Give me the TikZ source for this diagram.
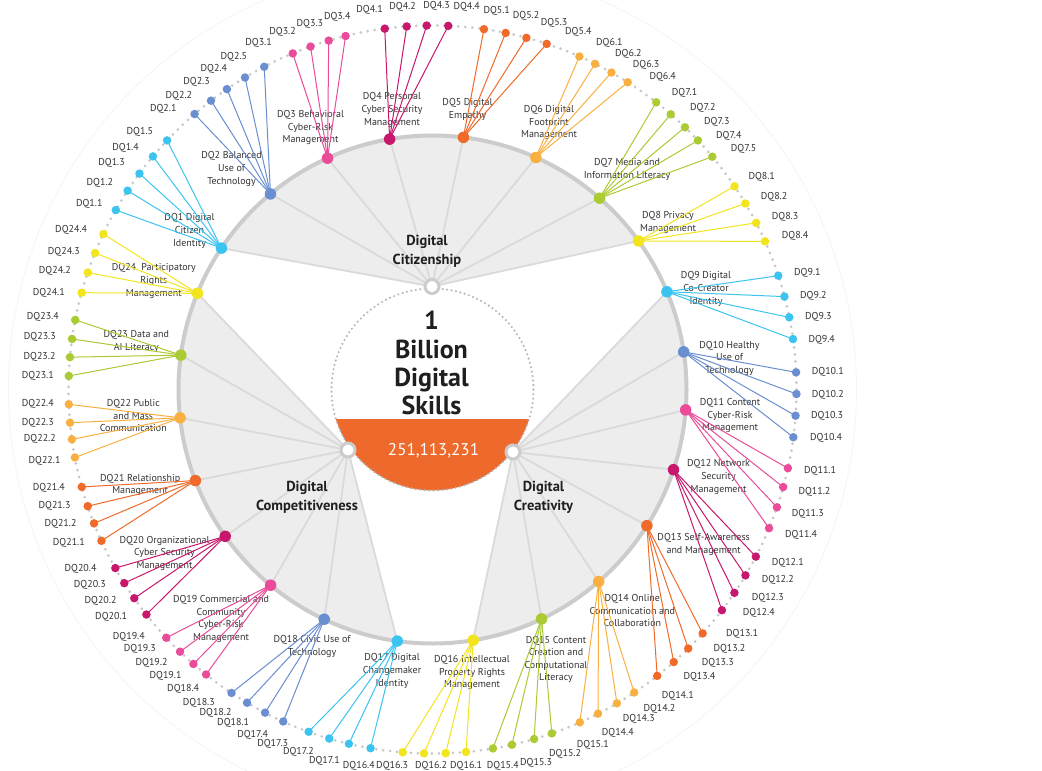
\documentclass[tikz,border=0pt]{standalone}
\usepackage{fontspec}
\setmainfont{PT Sans}
\usetikzlibrary{calc}
\pgfdeclarelayer{bg}
\pgfdeclarelayer{txt}
\pgfdeclarelayer{mid}
\pgfsetlayers{bg,txt,mid,main}
\definecolor{cA}{RGB}{60,196,240}
\definecolor{cB}{RGB}{106,143,208}
\definecolor{cC}{RGB}{234,76,154}
\definecolor{cD}{RGB}{200,24,110}
\definecolor{cE}{RGB}{240,106,42}
\definecolor{cF}{RGB}{249,176,66}
\definecolor{cG}{RGB}{170,203,51}
\definecolor{cH}{RGB}{242,229,30}
\definecolor{ringgray}{RGB}{204,204,204}
\definecolor{sectorgray}{RGB}{237,237,237}
\definecolor{spokegray}{RGB}{218,218,218}
\definecolor{dotgray}{RGB}{200,200,200}
\definecolor{faintgray}{RGB}{245,245,245}
\definecolor{txtdark}{RGB}{51,51,51}
\definecolor{dqorange}{RGB}{238,106,44}
\tikzset{
  subdot/.style={circle, inner sep=0pt, minimum size=8.5pt},
  hubdot/.style={circle, inner sep=0pt, minimum size=11.5pt},
  sublab/.style={font=\fontsize{10}{12}\selectfont, text=txtdark, inner sep=0pt},
  glab/.style={font=\fontsize{10}{12.6}\selectfont, text=txtdark, align=center, inner sep=0pt},
  conn/.style={line width=1pt},
  ring/.style={circle, fill=white, draw=ringgray, line width=3pt, minimum size=14pt, inner sep=0pt},
  spoke/.style={draw=spokegray, line width=1.8pt},
  pillar/.style={font=\bfseries\fontsize{14.5}{18.5}\selectfont, text=black!88, align=center, inner sep=0pt},
}
\newcommand\dqgrp[5]{%
  \node[hubdot, fill=#2] (h#1) at ($(C)!254pt!#3$) {};
  \begin{pgfonlayer}{txt}\node[glab] (t#1) at #4 {#5};\end{pgfonlayer}
}
\newcommand\dqsub[6]{%
  \node[subdot, fill=#3] (d#1-#2) at ($(C)!364pt!#4$) {};
  \node[sublab, anchor=#6] (l#1-#2) at #5 {DQ#1.#2};
  \begin{pgfonlayer}{mid}\draw[conn, draw=#3] (h#1.center) -- (d#1-#2.center);\end{pgfonlayer}
}
\begin{document}
\begin{tikzpicture}[x=1pt,y=-1pt]
\useasboundingbox (0,0) rectangle (1042,771);
\coordinate (C) at (432.5,389.5);
\node[ring] (hubA) at (432,286.5) {};
\node[ring] (hubC) at (348,450) {};
\node[ring] (hubB) at (513,452) {};

\dqgrp{1}{cA}{(220.7,247.6)}{(189.5,231)}{DQ1 Digital\\Citizen\\Identity}
\dqgrp{2}{cB}{(270.7,194.2)}{(231.5,169)}{DQ2 Balanced\\Use of\\Technology}
\dqgrp{3}{cC}{(327.5,158.1)}{(310.5,127.7)}{DQ3 Behavioral\\Cyber-Risk\\Management}
\dqgrp{4}{cD}{(389.7,139.5)}{(392,110)}{DQ4 Personal\\Cyber Security\\Management}
\dqgrp{5}{cE}{(463.4,137.4)}{(467.5,109.7)}{DQ5 Digital\\Empathy}
\dqgrp{6}{cF}{(535,159.4)}{(549,122.7)}{DQ6 Digital\\Footprint\\Management}
\dqgrp{7}{cG}{(598.6,199.3)}{(627,169.7)}{DQ7 Media and\\Information Literacy}
\dqgrp{8}{cH}{(637.8,241.5)}{(668,222.7)}{DQ8 Privacy\\Management}
\dqgrp{9}{cA}{(665.8,292.2)}{(706,289)}{DQ9 Digital\\Co-Creator\\Identity}
\dqgrp{10}{cB}{(682,352.1)}{(729.5,358.3)}{DQ10 Healthy\\Use of\\Technology}
\dqgrp{11}{cC}{(685.5,409.9)}{(730,415.7)}{DQ11 Content\\Cyber-Risk\\Management}
\dqgrp{12}{cD}{(673.6,469.7)}{(718.5,477)}{DQ12 Network\\Security\\Management}
\dqgrp{13}{cE}{(647.6,526.1)}{(703.7,544.5)}{DQ13 Self-Awareness\\and Management}
\dqgrp{14}{cF}{(599.3,582.2)}{(632.3,610.5)}{DQ14 Online\\Communication and\\Collaboration}
\dqgrp{15}{cG}{(541.8,619.4)}{(556,659.5)}{DQ15 Content\\Creation and\\Computational\\Literacy}
\dqgrp{16}{cH}{(473.5,642.1)}{(472,672.7)}{DQ16 Intellectual\\Property Rights\\Management}
\dqgrp{17}{cA}{(397.1,642.1)}{(392,671)}{DQ17 Digital\\Changemaker\\Identity}
\dqgrp{18}{cB}{(323.8,620.1)}{(312,646.3)}{DQ18 Civic Use of\\Technology}
\dqgrp{19}{cC}{(269.7,586.3)}{(221,618.8)}{DQ19 Commercial and\\Community\\Cyber-Risk\\Management}
\dqgrp{20}{cD}{(222.4,538.3)}{(164.5,553.3)}{DQ20 Organizational\\Cyber Security\\Management}
\dqgrp{21}{cE}{(193,481.5)}{(140.2,485)}{DQ21 Relationship\\Management}
\dqgrp{22}{cF}{(178.5,418)}{(133.3,415.7)}{DQ22 Public\\and Mass\\Communication}
\dqgrp{23}{cG}{(178.5,354.8)}{(136.3,341.7)}{DQ23 Data and\\AI Literacy}
\dqgrp{24}{cH}{(196.4,292.9)}{(153.8,281)}{DQ24~ Participatory\\Rights\\Management}

\dqsub{1}{1}{cA}{(115.7,210)}{(102.7,204.3)}{east}
\dqsub{1}{2}{cA}{(127.7,190.7)}{(113.3,183.3)}{east}
\dqsub{1}{3}{cA}{(140,174)}{(125,163.3)}{east}
\dqsub{1}{4}{cA}{(154,157.3)}{(139,147.7)}{east}
\dqsub{1}{5}{cA}{(167.7,141)}{(153.3,131.7)}{east}
\dqsub{2}{1}{cB}{(196,115.7)}{(176.7,109.3)}{east}
\dqsub{2}{2}{cB}{(212,102)}{(192.3,96)}{east}
\dqsub{2}{3}{cB}{(227.3,89.7)}{(210,82.3)}{east}
\dqsub{2}{4}{cB}{(245.3,78)}{(227.3,69.3)}{east}
\dqsub{2}{5}{cB}{(265,68.3)}{(247.3,56.7)}{east}
\dqsub{3}{1}{cC}{(292.7,53.3)}{(272,43.3)}{east}
\dqsub{3}{2}{cC}{(310,45)}{(296,32.3)}{east}
\dqsub{3}{3}{cC}{(328.3,39.3)}{(323.3,24)}{east}
\dqsub{3}{4}{cC}{(345.3,35)}{(350.7,16.7)}{east}
\dqsub{4}{1}{cD}{(384.7,28.3)}{(383,9.7)}{east}
\dqsub{4}{2}{cD}{(406.7,26)}{(416,7.3)}{east}
\dqsub{4}{3}{cD}{(426.7,25)}{(450,5.5)}{east}
\dqsub{4}{4}{cD}{(448.3,25)}{(453.3,7.3)}{west}
\dqsub{5}{1}{cE}{(484,28.7)}{(483.3,10.7)}{west}
\dqsub{5}{2}{cE}{(505.7,32.7)}{(512.7,16)}{west}
\dqsub{5}{3}{cE}{(526.7,36.7)}{(540.7,23.3)}{west}
\dqsub{5}{4}{cE}{(547,43)}{(565,32.3)}{west}
\dqsub{6}{1}{cF}{(579.3,56.7)}{(596,43.3)}{west}
\dqsub{6}{2}{cF}{(595.3,63.3)}{(615,54)}{west}
\dqsub{6}{3}{cF}{(611,73.3)}{(632.7,65)}{west}
\dqsub{6}{4}{cF}{(627.7,82.3)}{(649.3,76.7)}{west}
\dqsub{7}{1}{cG}{(656.7,101.7)}{(671.7,93.3)}{west}
\dqsub{7}{2}{cG}{(671,114)}{(690,108.3)}{west}
\dqsub{7}{3}{cG}{(684,128.3)}{(704,121.7)}{west}
\dqsub{7}{4}{cG}{(697.3,141)}{(716,135.7)}{west}
\dqsub{7}{5}{cG}{(712.3,156.7)}{(730.7,149.3)}{west}
\dqsub{8}{1}{cH}{(735,186)}{(748.3,177.3)}{west}
\dqsub{8}{2}{cH}{(745.7,203.3)}{(760.7,196.7)}{west}
\dqsub{8}{3}{cH}{(755.3,223.3)}{(771.7,217.3)}{west}
\dqsub{8}{4}{cH}{(764.3,241.7)}{(781.7,235.7)}{west}
\dqsub{9}{1}{cA}{(777.3,276)}{(794,272.7)}{west}
\dqsub{9}{2}{cA}{(784,296.7)}{(800,296)}{west}
\dqsub{9}{3}{cA}{(789.3,317.3)}{(805,317.3)}{west}
\dqsub{9}{4}{cA}{(793.3,339)}{(808.3,340)}{west}
\dqsub{10}{1}{cB}{(796.7,372.3)}{(811.7,372.3)}{west}
\dqsub{10}{2}{cB}{(796.7,394)}{(811.7,395)}{west}
\dqsub{10}{3}{cB}{(796,415.7)}{(811,415.7)}{west}
\dqsub{10}{4}{cB}{(794,437.3)}{(810,437.7)}{west}
\dqsub{11}{1}{cC}{(788.3,468.3)}{(804,470.7)}{west}
\dqsub{11}{2}{cC}{(784,487.3)}{(798.3,492.3)}{west}
\dqsub{11}{3}{cC}{(777,507.3)}{(791.7,514.3)}{west}
\dqsub{11}{4}{cC}{(769.3,528.3)}{(785,535)}{west}
\dqsub{12}{1}{cD}{(756,556.7)}{(771.7,562.7)}{west}
\dqsub{12}{2}{cD}{(746,575.7)}{(761.7,580)}{west}
\dqsub{12}{3}{cD}{(735.7,593.7)}{(751.7,597.7)}{west}
\dqsub{12}{4}{cD}{(720.7,609.3)}{(742.7,613.3)}{west}
\dqsub{13}{1}{cE}{(703.3,634)}{(726,634)}{west}
\dqsub{13}{2}{cE}{(688.7,649)}{(713.3,649)}{west}
\dqsub{13}{3}{cE}{(674.3,662.7)}{(701.7,662.7)}{west}
\dqsub{13}{4}{cE}{(657.3,676)}{(683.3,677.3)}{west}
\dqsub{14}{1}{cF}{(635,693.7)}{(661.7,696)}{west}
\dqsub{14}{2}{cF}{(617.3,704)}{(643.3,708.7)}{west}
\dqsub{14}{3}{cF}{(598.3,714.3)}{(622.7,719.3)}{west}
\dqsub{14}{4}{cF}{(580,722.7)}{(601.7,732.7)}{west}
\dqsub{15}{1}{cG}{(551.7,733)}{(576.7,745)}{west}
\dqsub{15}{2}{cG}{(534,738.7)}{(549,754)}{west}
\dqsub{15}{3}{cG}{(512,745)}{(520,763)}{west}
\dqsub{15}{4}{cG}{(493,749)}{(486.7,765.5)}{west}
\dqsub{16}{1}{cH}{(466,751.7)}{(450,765.5)}{west}
\dqsub{16}{2}{cH}{(445.7,754)}{(415,765.5)}{west}
\dqsub{16}{3}{cH}{(424,753.3)}{(408.3,765.5)}{east}
\dqsub{16}{4}{cH}{(402.7,752.3)}{(375,765.5)}{east}
\dqsub{17}{1}{cA}{(370.7,747.3)}{(340,760.7)}{east}
\dqsub{17}{2}{cA}{(349,743.3)}{(314,751.7)}{east}
\dqsub{17}{3}{cA}{(329,739.3)}{(288.3,744)}{east}
\dqsub{17}{4}{cA}{(308.3,732.7)}{(268.3,735)}{east}
\dqsub{18}{1}{cB}{(283.3,721.3)}{(249.3,722.7)}{east}
\dqsub{18}{2}{cB}{(265,712.7)}{(231.7,713.3)}{east}
\dqsub{18}{3}{cB}{(246.7,703.3)}{(215,702.7)}{east}
\dqsub{18}{4}{cB}{(231.7,692.7)}{(199.3,689.3)}{east}
\dqsub{19}{1}{cC}{(206.7,673.7)}{(181.7,676)}{east}
\dqsub{19}{2}{cC}{(194,663.3)}{(167.7,663.3)}{east}
\dqsub{19}{3}{cC}{(180.7,651)}{(156,649.3)}{east}
\dqsub{19}{4}{cC}{(166.7,637.3)}{(145,637.3)}{east}
\dqsub{20}{1}{cD}{(146.7,614.3)}{(127.3,617.3)}{east}
\dqsub{20}{2}{cD}{(135,597.7)}{(116.7,601)}{east}
\dqsub{20}{3}{cD}{(125,582.7)}{(106,585)}{east}
\dqsub{20}{4}{cD}{(116.7,567.3)}{(96.7,569)}{east}
\dqsub{21}{1}{cE}{(101.7,540.7)}{(85,542.7)}{east}
\dqsub{21}{2}{cE}{(95.7,522.7)}{(76.7,524.3)}{east}
\dqsub{21}{3}{cE}{(88.3,506)}{(70.7,506)}{east}
\dqsub{21}{4}{cE}{(82.7,486.7)}{(65,488.3)}{east}
\dqsub{22}{1}{cF}{(75.7,457.3)}{(60.7,461)}{east}
\dqsub{22}{2}{cF}{(72.3,439.3)}{(56,439.3)}{east}
\dqsub{22}{3}{cF}{(70,422.7)}{(54,422.7)}{east}
\dqsub{22}{4}{cF}{(69.3,404.3)}{(54,404.3)}{east}
\dqsub{23}{1}{cG}{(70,376)}{(54,375.7)}{east}
\dqsub{23}{2}{cG}{(71.7,357.3)}{(55.7,357.3)}{east}
\dqsub{23}{3}{cG}{(72.3,339)}{(56,337.3)}{east}
\dqsub{23}{4}{cG}{(75.7,320)}{(59,316.7)}{east}
\dqsub{24}{1}{cH}{(81.7,292.7)}{(65,292.7)}{east}
\dqsub{24}{2}{cH}{(88.3,272.7)}{(71,271)}{east}
\dqsub{24}{3}{cH}{(95.7,253.3)}{(80,251.7)}{east}
\dqsub{24}{4}{cH}{(103.3,234)}{(87.3,230)}{east}

\node[font=\bfseries\fontsize{26}{28.2}\selectfont, align=center, text=black!88, inner sep=0pt] (title) at (431.5,363.2) {1\\Billion\\Digital\\Skills};
\node[font=\fontsize{17}{20}\selectfont, text=white, inner sep=0pt] (count) at (433.5,451) {251,113,231};
\node[pillar] (pA) at (427,251.5) {Digital\\Citizenship};
\node[pillar] (pC) at (307,497.5) {Digital\\Competitiveness};
\node[pillar] (pB) at (543.5,497.5) {Digital\\Creativity};

\begin{pgfonlayer}{bg}
\fill[white] (0,0) rectangle (1042,771);
\draw[faintgray, line width=0.8pt] (C) circle (424pt);
\draw[dotgray, line width=3pt, line cap=round, dash pattern=on 0pt off 7pt] (C) circle (364pt);
\begin{scope}
\clip (C) circle (254pt);
\fill[sectorgray] (hubA.center) \foreach \i in {1,...,8}{ -- ($(hubA.center)!4!(h\i.center)$) } -- cycle;
\fill[sectorgray] (hubB.center) \foreach \i in {9,...,16}{ -- ($(hubB.center)!4!(h\i.center)$) } -- cycle;
\fill[sectorgray] (hubC.center) \foreach \i in {17,...,24}{ -- ($(hubC.center)!4!(h\i.center)$) } -- cycle;
\end{scope}
\foreach \i in {1,...,8} \draw[spoke] (hubA.center) -- (h\i.center);
\foreach \i in {9,...,16} \draw[spoke] (hubB.center) -- (h\i.center);
\foreach \i in {17,...,24} \draw[spoke] (hubC.center) -- (h\i.center);
\draw[ringgray, line width=4pt] (C) circle (254pt);
\begin{scope}
\clip (C) circle (101pt);
\fill[dqorange] (320,419) rectangle (545,500);
\end{scope}
\draw[dotgray!90!black, line width=2.3pt, line cap=round, dash pattern=on 0pt off 4.5pt] (C) circle (101pt);
\end{pgfonlayer}
\end{tikzpicture}
\end{document}
